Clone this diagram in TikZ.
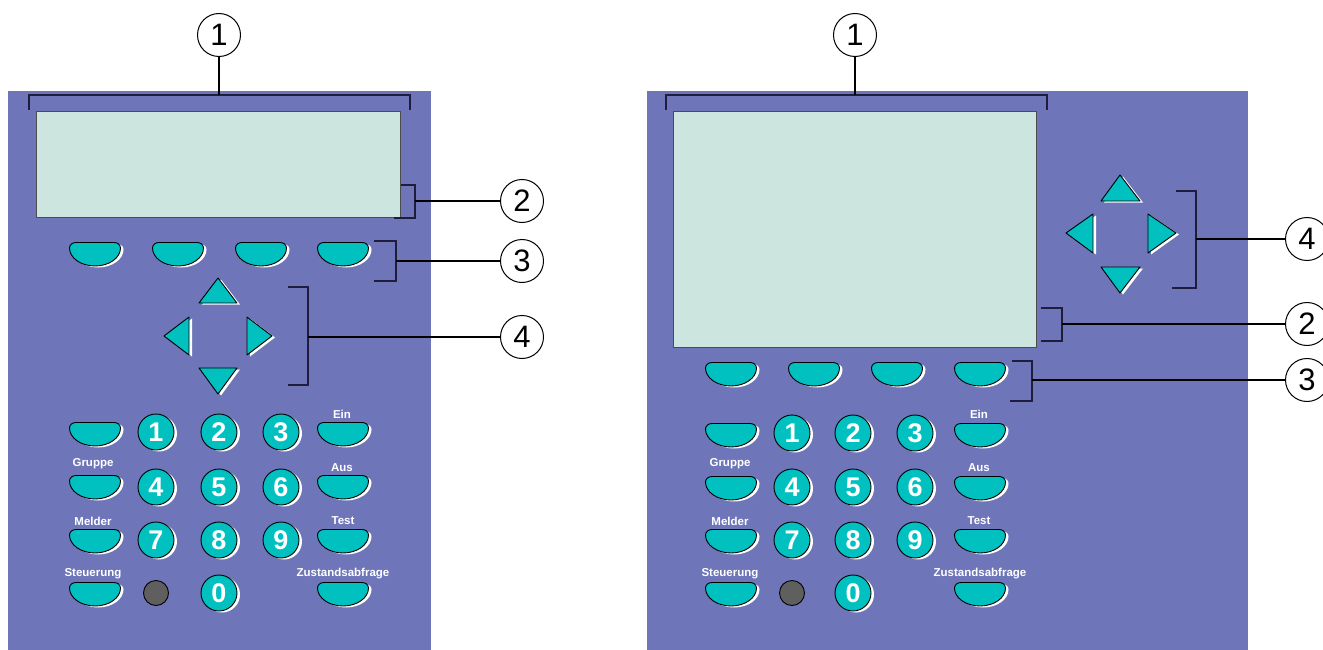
\documentclass[tikz,border=0pt]{standalone}
\usepackage{fontspec}
\setmainfont{Liberation Sans}
\definecolor{panel}{RGB}{110,117,185}
\definecolor{keyteal}{RGB}{0,192,192}
\definecolor{lcd}{RGB}{205,229,223}
\definecolor{brk}{RGB}{30,30,60}
\definecolor{dotgray}{RGB}{95,95,95}
\newcommand\keyshape{(-19,-11.5) -- (19,-11.5) to[out=0,in=90] (25.5,-6) arc[start angle=0, end angle=180, x radius=25.5, y radius=18] to[out=90,in=180] (-19,-11.5) -- cycle}
\newcommand\shfill[1]{\fill[white,shift={(3,1.5)}] #1; \filldraw[keyfill] #1;}
\tikzset{
  x=1pt, y=-1pt,
  keyfill/.style={fill=keyteal, draw=black, line width=0.9pt, line join=round},
  softkey/.pic={\fill[white,shift={(3,1.5)}] \keyshape; \filldraw[keyfill] \keyshape;},
  digitkey/.style={circle, fill=keyteal, draw=black, line width=0.9pt, minimum size=36pt, inner sep=0pt, text=white, font=\bfseries\fontsize{27}{27}\selectfont},
  digitshadow/.style={circle, fill=white, minimum size=36pt, inner sep=0pt},
  keylabel/.style={text=white, font=\bfseries\fontsize{11.5}{12}\selectfont, inner sep=0pt},
  callout/.style={circle, draw=black, fill=white, line width=1pt, minimum size=43pt, inner sep=0pt, font=\fontsize{31}{31}\selectfont},
  brkline/.style={draw=brk, line width=1.3pt},
  lead/.style={draw=black, line width=2.6pt},
}
\newcommand\digit[4]{% name, x, y, text
  \node[digitshadow] at (#2+3,#3+1.5) {};
  \node[digitkey] (#1) at (#2,#3) {#4};}
\begin{document}
\begin{tikzpicture}
\useasboundingbox (0,0) rectangle (1323,650);
% ================= LEFT PANEL =================
\fill[panel] (8,91) rectangle (431,650);
\filldraw[fill=lcd, draw=black!70, line width=1pt] (36,112) rectangle (400,217);
% brackets
\draw[brkline] (29,110) -- (29,95) -- (410,95) -- (410,110);
\coordinate (L1) at (219,95);
\draw[brkline] (401,185) -- (415,185) -- (415,218) -- (394,218);
\coordinate (L2) at (415,201);
\draw[brkline] (374,241) -- (396,241) -- (396,281) -- (374,281);
\coordinate (L3) at (396,261);
\draw[brkline] (288,287) -- (308,287) -- (308,385) -- (288,385);
\coordinate (L4) at (308,337);
\node[callout] (c1L) at (219,35) {1};
\node[callout] (c2L) at (522,201) {2};
\node[callout] (c3L) at (522,261) {3};
\node[callout] (c4L) at (522,337) {4};
\draw[lead] (c1L) -- (L1);
\draw[lead] (c2L) -- (L2);
\draw[lead] (c3L) -- (L3);
\draw[lead] (c4L) -- (L4);
% soft keys
\foreach \x in {95,178,261,343} \pic at (\x,254) {softkey};
% arrows
\shfill{(199,303) -- (237,303) -- (218,278) -- cycle}
\shfill{(164,336) -- (189,317) -- (189,355) -- cycle}
\shfill{(247,317) -- (247,355) -- (272,336) -- cycle}
\shfill{(199,368) -- (237,368) -- (218,394) -- cycle}
% keypad
\foreach \y in {434,487,541,594} {\pic at (95,\y) {softkey}; \pic at (343,\y) {softkey};}
\digit{k1L}{156}{432}{1}
\digit{k2L}{219}{432}{2}
\digit{k3L}{281}{432}{3}
\digit{k4L}{156}{487}{4}
\digit{k5L}{219}{487}{5}
\digit{k6L}{281}{487}{6}
\digit{k7L}{156}{540}{7}
\digit{k8L}{219}{540}{8}
\digit{k9L}{281}{540}{9}
\digit{k0L}{219}{593}{0}
\filldraw[fill=dotgray, draw=black, line width=0.9pt] (156,593) circle (12.5);
\node[keylabel] (einL) at (342,414) {Ein};
\node[keylabel] (grL) at (93,464) {Gruppe};
\node[keylabel] (ausL) at (342,468) {Aus};
\node[keylabel] (melL) at (93,521) {Melder};
\node[keylabel] (tstL) at (343,521) {Test};
\node[keylabel] (stL) at (93,574) {Steuerung};
\node[keylabel] (zuL) at (343,574) {Zustandsabfrage};
% ================= RIGHT PANEL =================
\fill[panel] (647,91) rectangle (1248,650);
\filldraw[fill=lcd, draw=black!70, line width=1pt] (673,112) rectangle (1036,347);
\draw[brkline] (666,110) -- (666,95) -- (1047,95) -- (1047,110);
\coordinate (R1) at (855,95);
\draw[brkline] (1176,191) -- (1196,191) -- (1196,288) -- (1172,288);
\coordinate (R4) at (1196,239);
\draw[brkline] (1041,308) -- (1062,308) -- (1062,341) -- (1041,341);
\coordinate (R2) at (1062,324);
\draw[brkline] (1012,361) -- (1032,361) -- (1032,401) -- (1010,401);
\coordinate (R3) at (1032,380);
\node[callout] (c1R) at (855,35) {1};
\node[callout] (c4R) at (1307,239) {4};
\node[callout] (c2R) at (1307,324) {2};
\node[callout] (c3R) at (1307,380) {3};
\draw[lead] (c1R) -- (R1);
\draw[lead] (c4R) -- (R4);
\draw[lead] (c2R) -- (R2);
\draw[lead] (c3R) -- (R3);
\foreach \x in {731,814,897,980} \pic at (\x,374) {softkey};
\shfill{(1101,201) -- (1140,201) -- (1120,175) -- cycle}
\shfill{(1066,233) -- (1093,214) -- (1093,253) -- cycle}
\shfill{(1148,214) -- (1148,253) -- (1176,233) -- cycle}
\shfill{(1101,267) -- (1140,267) -- (1120,293) -- cycle}
\foreach \y in {435,488,541,594} {\pic at (731,\y) {softkey}; \pic at (980,\y) {softkey};}
\digit{k1R}{792}{433}{1}
\digit{k2R}{853}{433}{2}
\digit{k3R}{915}{433}{3}
\digit{k4R}{792}{487}{4}
\digit{k5R}{853}{487}{5}
\digit{k6R}{915}{487}{6}
\digit{k7R}{792}{540}{7}
\digit{k8R}{853}{540}{8}
\digit{k9R}{915}{540}{9}
\digit{k0R}{853}{593}{0}
\filldraw[fill=dotgray, draw=black, line width=0.9pt] (792,593) circle (12.5);
\node[keylabel] (einR) at (979,414) {Ein};
\node[keylabel] (grR) at (730,464) {Gruppe};
\node[keylabel] (ausR) at (979,468) {Aus};
\node[keylabel] (melR) at (730,521) {Melder};
\node[keylabel] (tstR) at (979,521) {Test};
\node[keylabel] (stR) at (730,574) {Steuerung};
\node[keylabel] (zuR) at (980,574) {Zustandsabfrage};
\end{tikzpicture}
\end{document}
